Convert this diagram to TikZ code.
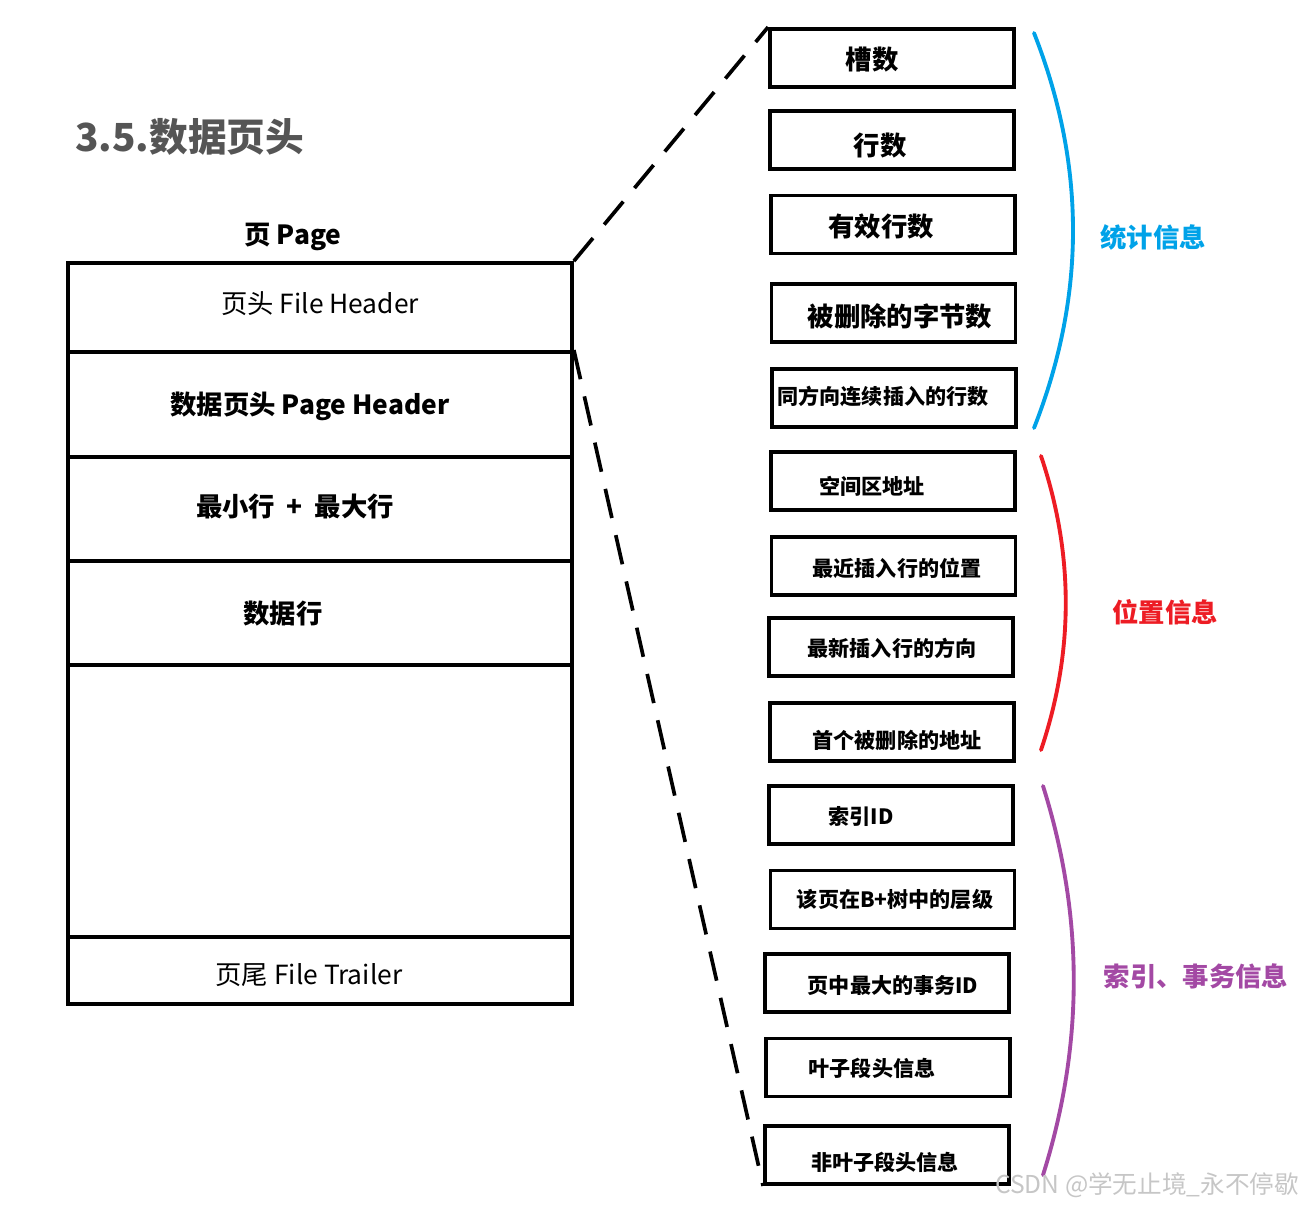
\documentclass[tikz,border=0pt]{standalone}
\usepackage{fontspec}
\setmainfont{Noto Sans CJK SC}
\usetikzlibrary{positioning}
\definecolor{statblue}{HTML}{00A2E8}
\definecolor{posred}{HTML}{ED1C24}
\definecolor{idxpurple}{HTML}{A349A4}
\definecolor{titlegray}{HTML}{555555}

\begin{document}
\begin{tikzpicture}[
     x=0.02cm, y=-0.02cm,
     % define styles
     part/.style={
         draw,
         line width=2.2pt,
         minimum width=10.08cm,
         inner sep=0pt
     },
     cell/.style={
         draw,
         line width=2.2pt,
         minimum width=4.88cm,
         minimum height=1.16cm,
         inner sep=0pt
     },
     titletext/.style={font=\bfseries\fontsize{22}{25}\selectfont, text=titlegray},
     bigtext/.style={font=\bfseries\fontsize{15}{18}\selectfont},
     smalltext/.style={font=\bfseries\fontsize{12}{14}\selectfont},
     normaltext/.style={font=\fontsize{15}{18}\selectfont},
     zoomline/.style={dash pattern=on 17pt off 10pt, line width=2.1pt},
     brace/.style={line width=2.2pt, line cap=round}
]
\useasboundingbox (0,0) rectangle (1308,1206);

% heading
\node[titletext, anchor=west, inner sep=0pt] (title) at (75,137) {3.5.数据页头};
\node[bigtext] (pagename) at (293,237) {页 Page};

% the page, top to bottom
\node[part, minimum height=1.78cm] (sec1) at (320,307.5) {};
\node[part, minimum height=2.10cm] (sec2) at (320,404.5) {};
\node[part, minimum height=2.08cm] (sec3) at (320,509) {};
\node[part, minimum height=2.08cm] (sec4) at (320,613) {};
\node[part, minimum height=5.44cm] (sec5) at (320,801) {};
\node[part, minimum height=1.34cm] (sec6) at (320,970.5) {};

\node[normaltext] (fileheader) at (320,304) {页头 File Header};
\node[bigtext] (pageheader) at (310,406) {数据页头 Page Header};
\node[bigtext] (minmax) at (295,506) {最小行\hspace{0.45em}+\hspace{0.45em}最大行};
\node[bigtext] (rows) at (283,614) {数据行};
\node[normaltext] (trailer) at (309,975) {页尾 File Trailer};

% fields of the page header
\foreach \n/\cx/\cy/\tx/\ty/\s/\t in {
    1/892/58/872/60/bigtext/槽数,
    2/892/140/880/146/bigtext/行数,
    3/893/224.5/881/226/bigtext/有效行数,
    4/893.5/313/900/316/bigtext/被删除的字节数,
    5/894/398/883/396/smalltext/同方向连续插入的行数,
    6/893/481/872/486/smalltext/空间区地址,
    7/893.5/566/897/568/smalltext/最近插入行的位置,
    8/891/647/892/648/smalltext/最新插入行的方向,
    9/892/732/897/740/smalltext/首个被删除的地址,
    10/891/815/861/816/smalltext/索引ID,
    11/892.5/899.5/895/900/smalltext/该页在B+树中的层级,
    12/887/983/893/985/smalltext/页中最大的事务ID,
    13/888/1067.5/872/1068/smalltext/叶子段头信息,
    14/887/1155/885/1162/smalltext/非叶子段头信息%
}{
    \node[cell] (box\n) at (\cx,\cy) {};
    \node[\s] (item\n) at (\tx,\ty) {\t};
}

% zoom lines
\draw[zoomline] (sec1.north east) -- (box1.north west);
\draw[zoomline] (sec2.north east) -- (box14.south west);

% groups
\draw[brace, statblue] (1034,33) .. controls (1086,165) and (1086,296) .. (1034,428);
\node[bigtext, text=statblue] (stat) at (1153,237) {统计信息};
\draw[brace, posred] (1041,456) .. controls (1074,554) and (1074,652) .. (1041,750);
\node[bigtext, text=posred] (pos) at (1165,612) {位置信息};
\draw[brace, idxpurple] (1043,786) .. controls (1084,916) and (1084,1045) .. (1043,1175);
\node[bigtext, text=idxpurple] (idx) at (1196,976) {索引、事务信息};

\node[font=\fontsize{14}{16}\selectfont, text=gray!45] (mark) at (1147,1185) {CSDN @学无止境\_永不停歇};
\end{tikzpicture}
\end{document}
